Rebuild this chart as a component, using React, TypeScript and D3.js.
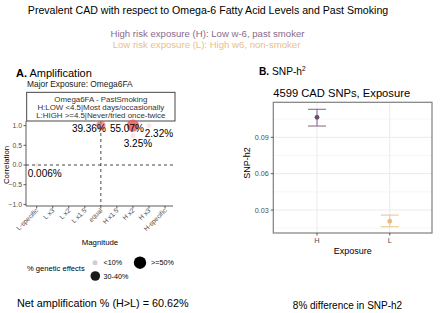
import React from "react";
import * as d3 from "d3";

// ---------- Data ----------
const titleText = "Prevalent CAD with respect to Omega-6 Fatty Acid Levels and Past Smoking";
const subtitleH = "High risk exposure (H): Low w-6, past smoker";
const subtitleL = "Low risk exposure (L): High w6, non-smoker";

const magnitudeCats = ["L-specific", "L x3", "L x2", "L x1.5", "equal", "H x1.5", "H x2", "H x3", "H-specific"];
const corrTicks = [-1.0, -0.5, 0.0, 0.5, 1.0];

const pointMagnitude = ["equal", "H x2", "H x3", "H x2", "L-specific"];
const pointCorr = [1.0, 1.0, 1.0, 0.75, 0.0];
const pointPct = [39.36, 55.07, 2.32, 3.25, 0.006];
const pointLabels = ["39.36%", "55.07%", "2.32%", "3.25%", "0.006%"];
const pointBins = ["30-40%", ">=50%", "<10%", "<10%", "<10%"];
const labelDx = [-12, -6, 10, 5, 8];
const labelDy = [6, 6, 11, 12, 12];

const sizeBins = ["<10%", "30-40%", ">=50%"];

const legendBoxLines = [
  "Omega6FA - PastSmoking",
  "H:LOW <4.5|Most days/occasionally",
  "L:HIGH >=4.5|Never/tried once-twice",
];

const exposureCats = ["H", "L"];
const h2Est = [0.1065, 0.0207];
const h2Lo = [0.0993, 0.0162];
const h2Hi = [0.1131, 0.0258];
const h2Ticks = [0.03, 0.06, 0.09];
const h2Minor = [0.015, 0.045, 0.075, 0.105];

const netAmpText = "Net amplification % (H>L) = 60.62%";
const diffText = "8% difference in SNP-h2";

// ---------- Component ----------
const FONT = "'Liberation Sans', Arial, Helvetica, sans-serif";

export default function App() {
  const W = 440, H = 313;

  // Panel A scales
  const ax = d3.scalePoint<string>().domain(magnitudeCats).range([36.7, 165]);
  const ay = d3.scaleLinear().domain([-1, 1]).range([204.4, 125.6]);
  const aLeft = 26, aRight = 173, aBottom = 206, aTop = 121;
  const rScale = d3.scaleOrdinal<string, number>().domain(sizeBins).range([2.5, 4.8, 6.2]);
  const alpha = d3.scaleLinear().domain([0, 55.07]).range([0.12, 0.85]);

  // Panel B scales
  const bLeft = 273.3, bRight = 432, bTop = 102.3, bBottom = 233;
  const bx = d3.scalePoint<string>().domain(exposureCats).range([bLeft + 1.5, bRight]).padding(0.58);
  const by = d3.scaleLinear().domain([0.03, 0.09]).range([210, 137.3]);
  const bColors = ["#6b4a6b", "#e8bd7e"];
  const bBarColors = ["#8d6f8d", "#edc995"];

  return (
    <svg width={W} height={H} style={{ position: "absolute", left: 0, top: 0, background: "#fff" }} fontFamily={FONT}>
      {/* Titles */}
      <text x={208} y={14} fontSize={10.6} textAnchor="middle" fill="#000">{titleText}</text>
      <text x={207.5} y={37} fontSize={9.6} textAnchor="middle" fill="#8a6a8a">{subtitleH}</text>
      <text x={206.5} y={48} fontSize={9.6} textAnchor="middle" fill="#eac08a">{subtitleL}</text>

      {/* Panel A header */}
      <text x={16} y={77} fontSize={11} fill="#000">
        <tspan fontWeight="bold">A.</tspan> Amplification
      </text>
      <text x={27} y={87} fontSize={8.4} fill="#1a1a1a">Major Exposure: Omega6FA</text>

      {/* Legend box */}
      <rect x={26.7} y={92.3} width={148.3} height={28.7} fill="#fff" stroke="#333" strokeWidth={0.9} />
      {legendBoxLines.map((l, i) => (
        <text key={l} x={100.8} y={101.5 + i * 8.4} fontSize={7.9} textAnchor="middle" fill="#333">{l}</text>
      ))}

      {/* Panel A axes */}
      <line x1={aLeft} x2={aLeft} y1={aTop} y2={aBottom} stroke="#333" strokeWidth={0.8} />
      <line x1={aLeft} x2={aRight} y1={aBottom} y2={aBottom} stroke="#333" strokeWidth={0.8} />
      {corrTicks.map((t) => (
        <g key={t}>
          <line x1={aLeft - 2.5} x2={aLeft} y1={ay(t)} y2={ay(t)} stroke="#333" strokeWidth={0.8} />
          <text x={aLeft - 4} y={ay(t) + 2.4} fontSize={6.8} textAnchor="end" fill="#4d4d4d">{d3.format(".1f")(t)}</text>
        </g>
      ))}
      {magnitudeCats.map((c) => (
        <g key={c}>
          <line x1={ax(c)!} x2={ax(c)!} y1={aBottom} y2={aBottom + 2.5} stroke="#333" strokeWidth={0.8} />
          <text
            transform={`translate(${ax(c)! + 2},${aBottom + 5}) rotate(-45)`}
            fontSize={6.6}
            textAnchor="end"
            fill="#4d4d4d"
          >{c}</text>
        </g>
      ))}
      <text x={100} y={244.5} fontSize={7.8} textAnchor="middle" fill="#000">Magnitude</text>
      <text transform={`translate(8.5,165) rotate(-90)`} fontSize={7.8} textAnchor="middle" fill="#000">Correlation</text>

      {/* Reference lines */}
      <line x1={aLeft} x2={aRight} y1={ay(0)} y2={ay(0)} stroke="#333" strokeWidth={0.9} strokeDasharray="3,3" />
      <line x1={ax("equal")!} x2={ax("equal")!} y1={aTop} y2={aBottom} stroke="#333" strokeWidth={0.9} strokeDasharray="3,3" />

      {/* Points */}
      {pointPct.map((p, i) => (
        <circle
          key={i}
          cx={ax(pointMagnitude[i])!}
          cy={ay(pointCorr[i])}
          r={rScale(pointBins[i])}
          fill="#ec5b5b"
          fillOpacity={alpha(p)}
        />
      ))}
      {pointLabels.map((l, i) => (
        <text
          key={l}
          x={ax(pointMagnitude[i])! + labelDx[i]}
          y={ay(pointCorr[i]) + labelDy[i]}
          fontSize={10}
          textAnchor="middle"
          fill="#000"
        >{l}</text>
      ))}

      {/* Size legend */}
      <text x={27} y={271} fontSize={7.6} fill="#000">% genetic effects</text>
      <circle cx={95} cy={262.7} r={rScale("<10%")} fill="#cfcfcf" />
      <text x={103.5} y={265.3} fontSize={7.2} fill="#000">{"<10%"}</text>
      <circle cx={95.3} cy={276} r={rScale("30-40%")} fill="#1a1a1a" />
      <text x={103.5} y={279} fontSize={7.2} fill="#000">30-40%</text>
      <circle cx={140} cy={262.7} r={rScale(">=50%")} fill="#000" />
      <text x={151} y={265.3} fontSize={7.2} fill="#000">{">=50%"}</text>

      <text x={17} y={306.5} fontSize={10.8} fill="#000">{netAmpText}</text>

      {/* Panel B header */}
      <text x={259} y={75} fontSize={10.2} fill="#000">
        <tspan fontWeight="bold">B.</tspan> SNP-h<tspan fontSize={6.5} dy={-4}>2</tspan>
      </text>
      <text x={273.3} y={97} fontSize={11.2} fill="#000">4599 CAD SNPs, Exposure</text>

      {/* Panel B grid */}
      <rect x={bLeft} y={bTop} width={bRight - bLeft} height={bBottom - bTop} fill="#fff" />
      {h2Minor.map((t) => (
        <line key={t} x1={bLeft} x2={bRight} y1={by(t)} y2={by(t)} stroke="#f2f2f2" strokeWidth={0.7} />
      ))}
      {h2Ticks.map((t) => (
        <line key={t} x1={bLeft} x2={bRight} y1={by(t)} y2={by(t)} stroke="#ebebeb" strokeWidth={1} />
      ))}
      {exposureCats.map((c) => (
        <line key={c} x1={bx(c)!} x2={bx(c)!} y1={bTop} y2={bBottom} stroke="#ebebeb" strokeWidth={1} />
      ))}

      {/* Error bars */}
      {exposureCats.map((c, i) => (
        <g key={c}>
          <line x1={bx(c)!} x2={bx(c)!} y1={by(h2Hi[i])} y2={by(h2Lo[i])} stroke={bBarColors[i]} strokeWidth={1.1} />
          <line x1={bx(c)! - 9} x2={bx(c)! + 9} y1={by(h2Hi[i])} y2={by(h2Hi[i])} stroke={bBarColors[i]} strokeWidth={1.1} />
          <line x1={bx(c)! - 9} x2={bx(c)! + 9} y1={by(h2Lo[i])} y2={by(h2Lo[i])} stroke={bBarColors[i]} strokeWidth={1.1} />
          <circle cx={bx(c)!} cy={by(h2Est[i])} r={2.4} fill={bColors[i]} />
        </g>
      ))}
      <rect x={bLeft} y={bTop} width={bRight - bLeft} height={bBottom - bTop} fill="none" stroke="#7f7f7f" strokeWidth={1.2} />

      {/* Panel B axes */}
      {h2Ticks.map((t) => (
        <g key={t}>
          <line x1={bLeft - 2.5} x2={bLeft} y1={by(t)} y2={by(t)} stroke="#333" strokeWidth={0.8} />
          <text x={bLeft - 4.5} y={by(t) + 2.5} fontSize={7.2} textAnchor="end" fill="#4d4d4d">{d3.format(".2f")(t)}</text>
        </g>
      ))}
      {exposureCats.map((c) => (
        <g key={c}>
          <line x1={bx(c)!} x2={bx(c)!} y1={bBottom} y2={bBottom + 2.5} stroke="#333" strokeWidth={0.8} />
          <text x={bx(c)!} y={242.5} fontSize={7.4} textAnchor="middle" fill="#4d4d4d">{c}</text>
        </g>
      ))}
      <text x={352.7} y={254} fontSize={9} textAnchor="middle" fill="#000">Exposure</text>
      <text transform={`translate(250,163) rotate(-90)`} fontSize={9} textAnchor="middle" fill="#000">SNP-h2</text>

      <text x={347.5} y={309} fontSize={10} textAnchor="middle" fill="#000">{diffText}</text>
    </svg>
  );
}
